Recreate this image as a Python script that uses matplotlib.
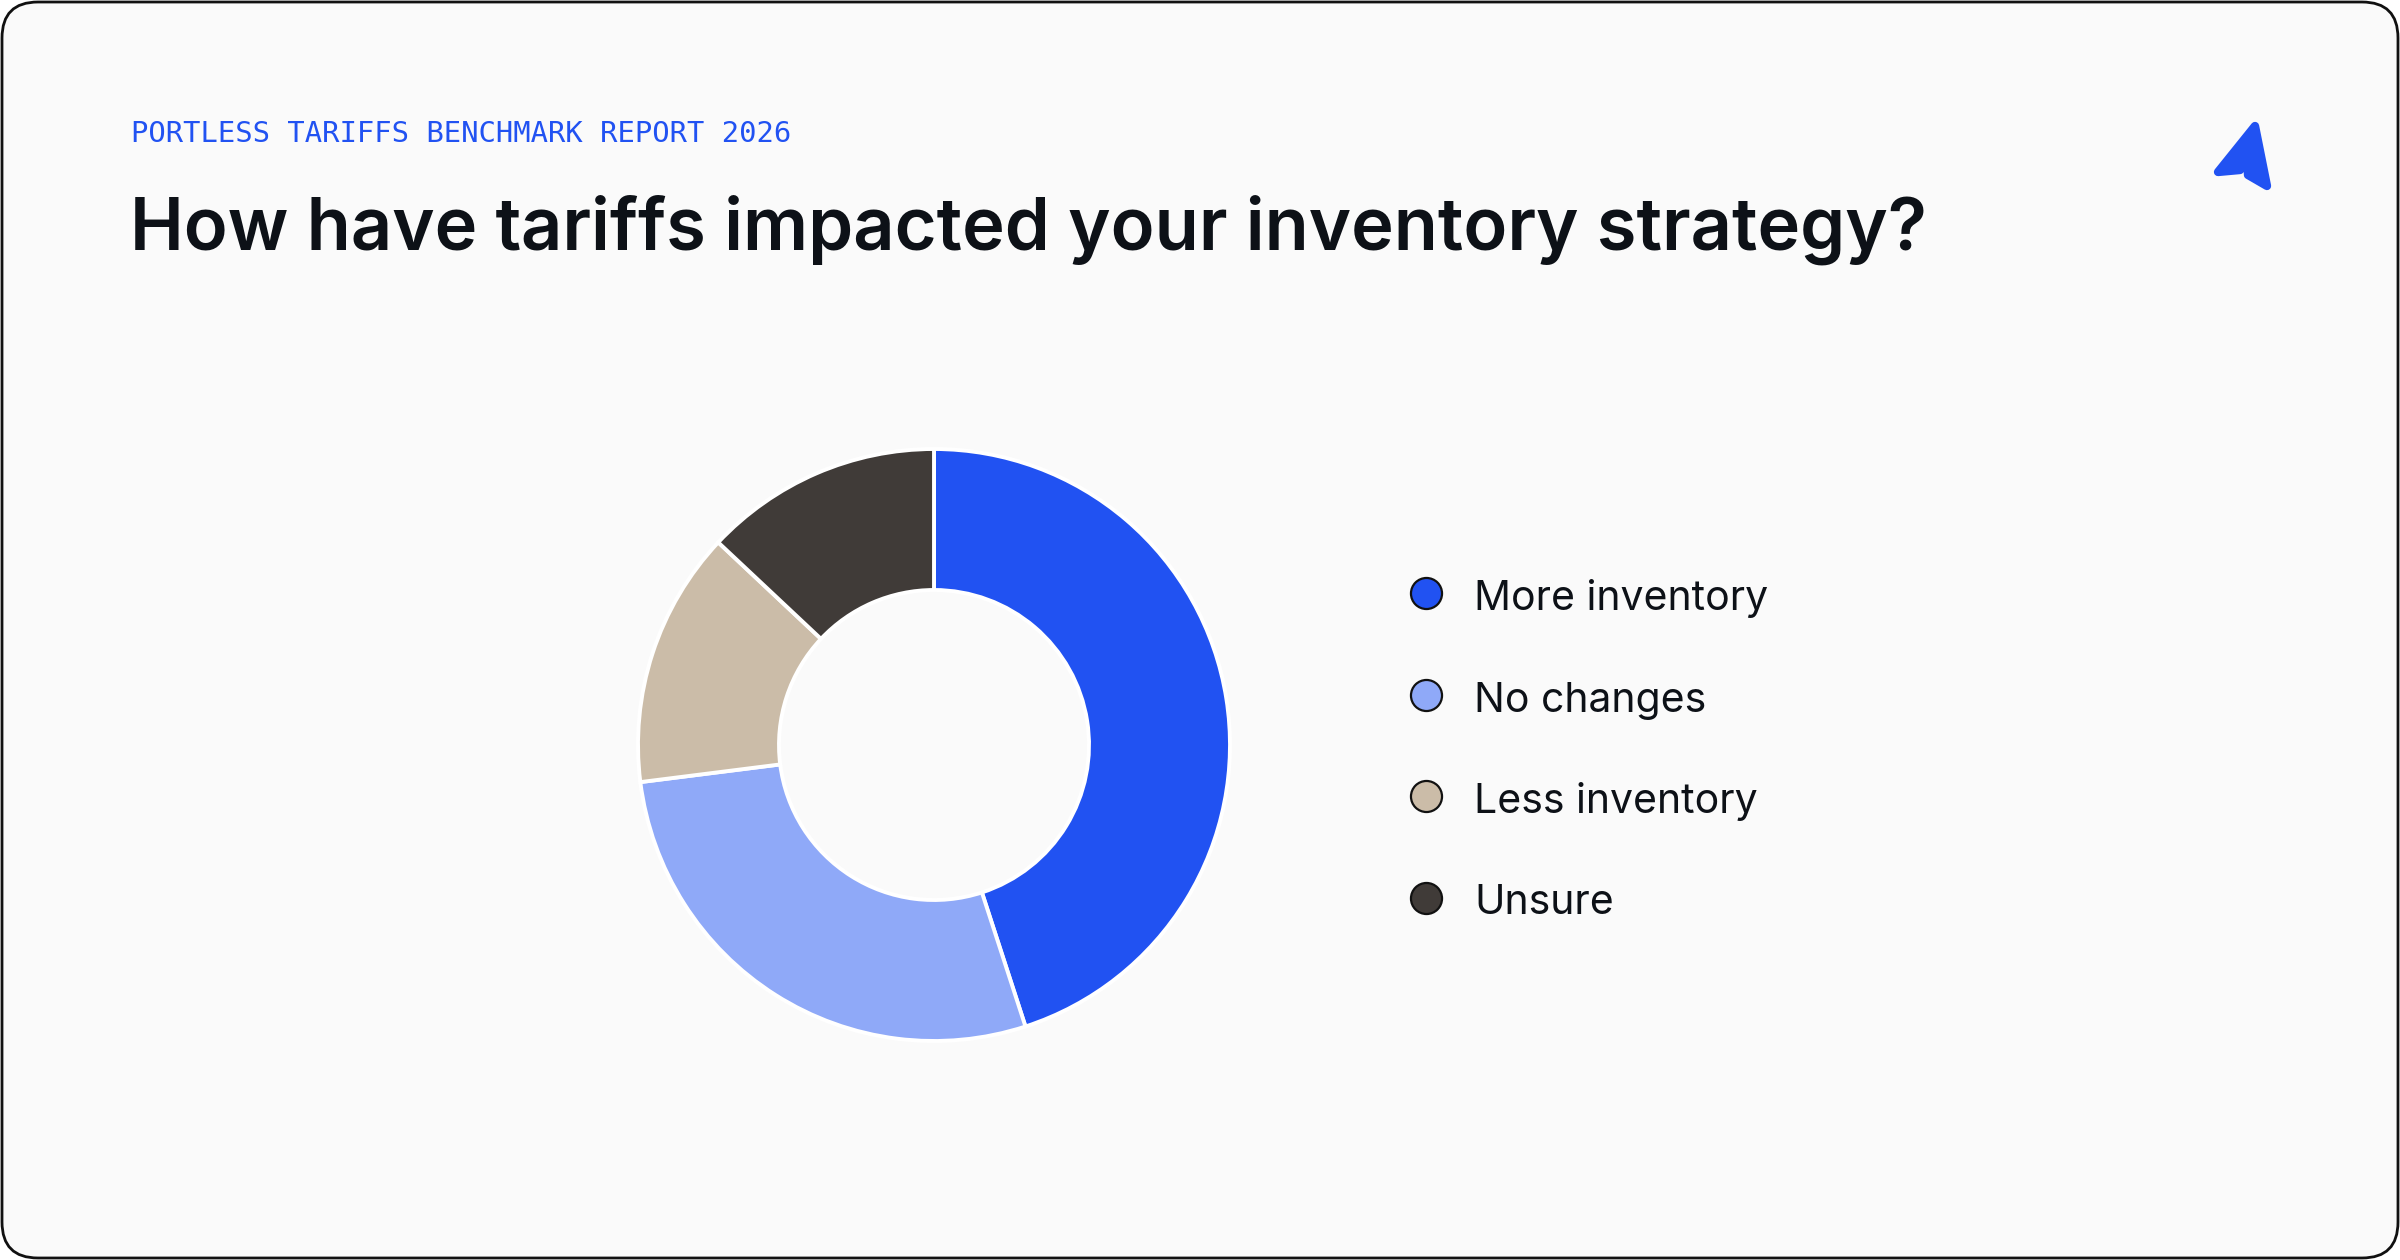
import matplotlib
matplotlib.use("Agg")
import matplotlib.pyplot as plt
from matplotlib.patches import FancyBboxPatch, Polygon

# ---- data ----
categories = ["More inventory", "No changes", "Less inventory", "Unsure"]
shares = [45, 28, 14, 13]
colors = ["#2152F2", "#8FA9F8", "#CBBCA8", "#403B38"]
kicker = "PORTLESS TARIFFS BENCHMARK REPORT 2026"
title = "How have tariffs impacted your inventory strategy?"

W, H, DPI = 2400, 1260, 200
fig = plt.figure(figsize=(W / DPI, H / DPI), dpi=DPI, facecolor="white")

# overlay axes in pixel coordinates
ov = fig.add_axes([0, 0, 1, 1], zorder=0)
ov.set_xlim(0, W)
ov.set_ylim(H, 0)
ov.axis("off")

card = FancyBboxPatch((2, 2), W - 4, H - 4,
                      boxstyle="round,pad=0,rounding_size=36",
                      facecolor="#FAFAFA", edgecolor="#111111", linewidth=1.0)
ov.add_patch(card)

ov.text(131, 142, kicker, family="DejaVu Sans Mono", fontsize=10.4,
        color="#2152F2", va="baseline", ha="left")
ov.text(130, 250, title, family="Inter", fontsize=26.0, color="#0D1117",
        va="baseline", ha="left", fontweight="semibold")

# logo
logo = Polygon([(2255, 126), (2267, 186), (2248, 175), (2247, 157),
                (2240, 170), (2218, 172)], closed=True,
               facecolor="#2152F2", edgecolor="#2152F2", linewidth=3.0,
               joinstyle="round")
ov.add_patch(logo)

# legend
leg_x, leg_y0, leg_dy = 1426, 593, 101.5
for i, (lab, col) in enumerate(zip(categories, colors)):
    y = leg_y0 + i * leg_dy
    ov.scatter([leg_x], [y], s=125, color=col, edgecolor="#111111",
               linewidth=0.8, zorder=3)
    ov.text(1474, y + 17, lab, family="Inter", fontsize=14.75, color="#0D1117",
            va="baseline", ha="left")

# donut
cx, cy, R, r_in = 934, 745, 296, 155
pax = fig.add_axes([(cx - R) / W, 1 - (cy + R) / H, 2 * R / W, 2 * R / H],
                   zorder=1)
pax.set_facecolor("none")
wedges, _ = pax.pie(shares, colors=colors, startangle=90, counterclock=False,
                    radius=1.0,
                    wedgeprops=dict(width=1 - r_in / R, edgecolor="white",
                                    linewidth=1.4))
for w in wedges:
    w.set_clip_on(False)
pax.set_xlim(-1, 1)
pax.set_ylim(-1, 1)
pax.set_aspect("equal")
pax.axis("off")

fig.savefig("out.png", dpi=DPI, facecolor="white")
